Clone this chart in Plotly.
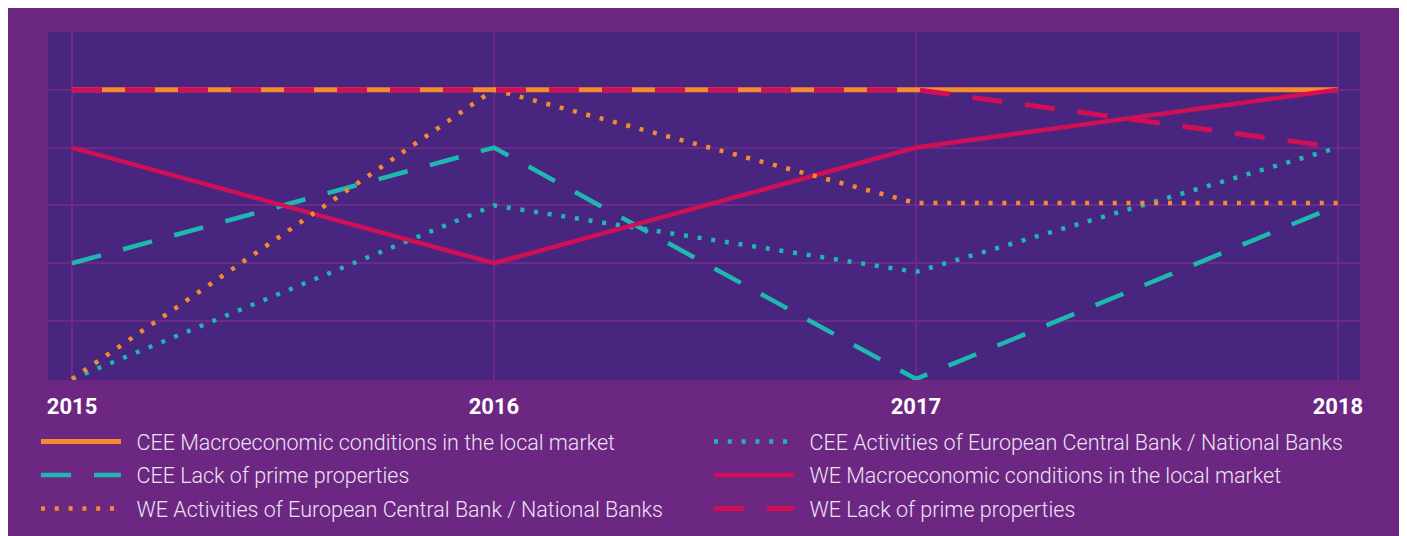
import plotly.graph_objects as go

years = [2015, 2016, 2017, 2018]

cee_macro = [5, 5, 5, 5]
cee_activities = [0, 3, 1.85, 4]
cee_lack = [2, 4, 0, 3]
we_macro = [4, 2, 4, 5]
we_activities = [0, 5, 3.04, 3.04]
we_lack = [5, 5, 5, 4]

names = [
    "CEE Macroeconomic conditions in the local market",
    "CEE Activities of European Central Bank / National Banks",
    "CEE Lack of prime properties",
    "WE Macroeconomic conditions in the local market",
    "WE Activities of European Central Bank / National Banks",
    "WE Lack of prime properties",
]

ORANGE = "#F58A2F"
TEAL = "#1EB8B1"
RED = "#D10F56"
OUTER = "#6C2782"
PLOTBG = "#48267F"
GRID = "#6A2A86"

series = [
    (names[0], cee_macro, ORANGE, "solid", 5, "legend"),
    (names[1], cee_activities, TEAL, "4px,9.8px", 4.5, "legend2"),
    (names[2], cee_lack, TEAL, "30px,23px", 4.5, "legend"),
    (names[3], we_macro, RED, "solid", 4.5, "legend2"),
    (names[4], we_activities, ORANGE, "4px,9.8px", 4.5, "legend"),
    (names[5], we_lack, RED, "30px,23px", 5, "legend2"),
]

fig = go.Figure()
for i, (nm, vals, col, dash, w, lg) in enumerate(series):
    fig.add_trace(go.Scatter(
        x=years, y=vals, mode="lines", name="\u00a0\u00a0" + nm,
        line=dict(color=col, dash=dash, width=w),
        legend=lg, legendgroup=f"g{i}", cliponaxis=False,
    ))

# page has an 8px body margin; reference pixel coords are shifted by it
OFF = 8
PL, PR, PT, PB = 48 - OFF, 1360 - OFF, 32 - OFF, 380 - OFF
W, H = 1392, 528


def px_x(p):
    return (p - OFF - PL) / float(PR - PL)


def px_y(p):
    return (PB - (p - OFF)) / float(PB - PT)


legend_font = dict(family="Roboto", size=21.5, color="#ECE2F2", weight=300)

fig.update_layout(
    width=W, height=H,
    margin=dict(l=PL, r=W - PR, t=PT, b=H - PB, pad=0, autoexpand=False),
    paper_bgcolor=OUTER,
    plot_bgcolor=PLOTBG,
    showlegend=True,
    legend=dict(
        x=px_x(36), y=px_y(421), xanchor="left", yanchor="top",
        orientation="v", font=legend_font, bgcolor="rgba(0,0,0,0)",
        itemwidth=80, tracegroupgap=2.5, traceorder="grouped",
    ),
    legend2=dict(
        x=px_x(709), y=px_y(421), xanchor="left", yanchor="top",
        orientation="v", font=legend_font, bgcolor="rgba(0,0,0,0)",
        itemwidth=80, tracegroupgap=2.5, traceorder="grouped",
    ),
    xaxis=dict(
        range=[2015 - 24 / 421.9, 2018 + 22 / 421.9],
        tickvals=years, ticktext=[str(y) for y in years],
        showgrid=True, gridcolor=GRID, gridwidth=1.5,
        zeroline=False, showline=False, ticks="",
        ticklabelstandoff=11, automargin=False,
        tickfont=dict(family="Roboto", size=22, color="#FFFFFF", weight="bold"),
        fixedrange=True,
    ),
    yaxis=dict(
        range=[-0.017, 5.997],
        tickvals=[1, 2, 3, 4, 5], showticklabels=False,
        showgrid=True, gridcolor=GRID, gridwidth=1.5,
        zeroline=False, showline=False, ticks="",
        fixedrange=True, automargin=False,
    ),
)

fig.write_html("out.html")
